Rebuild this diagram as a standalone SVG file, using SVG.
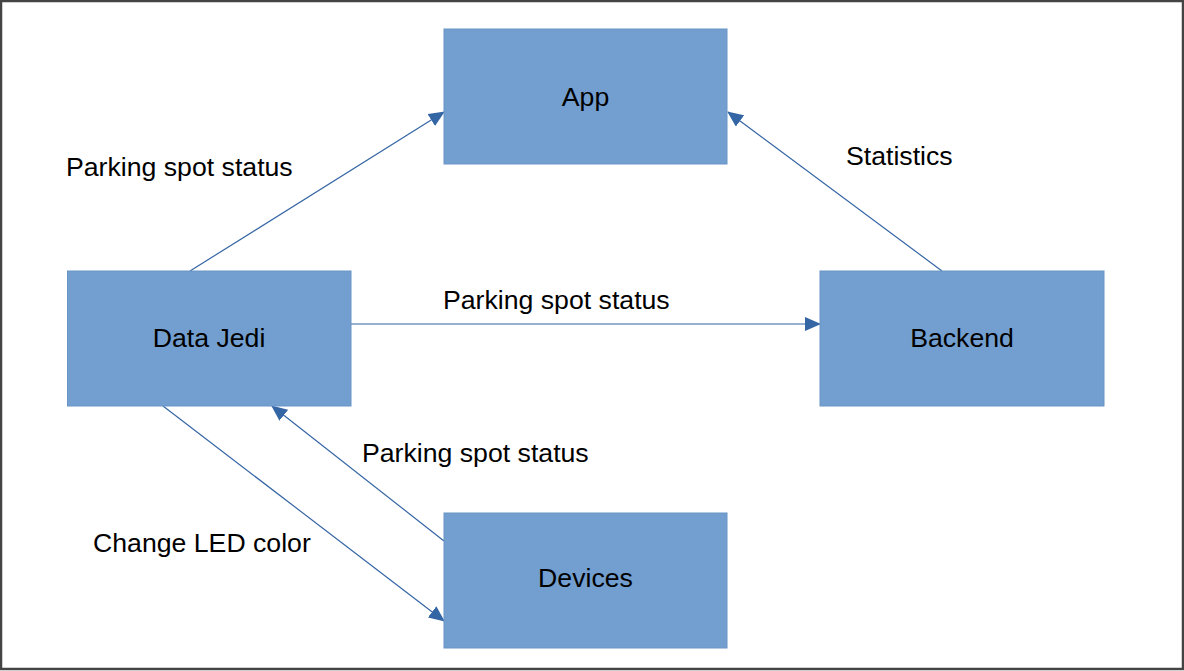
<svg xmlns="http://www.w3.org/2000/svg" width="1184" height="671" viewBox="0 0 1184 671">
<style>
.node rect{fill:#729fcf;stroke:#6a95c6;stroke-width:1}
.node text{font-family:"Liberation Sans",Arial,sans-serif;font-size:26.67px;fill:#000;text-anchor:middle}
.lbl{font-family:"Liberation Sans",Arial,sans-serif;font-size:26.67px;fill:#000}
.conn line{stroke:#3465a4;stroke-width:1.2;fill:none}
</style>
<defs>
<marker id="arr" markerUnits="userSpaceOnUse" markerWidth="16" markerHeight="14" viewBox="0 0 16 14" refX="15" refY="7" orient="auto">
<path d="M0,0 L16,7 L0,14 Z" fill="#3465a4"/>
</marker>
</defs>
<rect x="1" y="1" width="1182" height="668" fill="#fff" stroke="#444" stroke-width="2.5"/>
<g class="conn">
<line x1="190" y1="271" x2="444" y2="112" marker-end="url(#arr)"/>
<line x1="942" y1="271" x2="728" y2="112" marker-end="url(#arr)"/>
<line x1="351" y1="324" x2="820" y2="324" marker-end="url(#arr)"/>
<line x1="444" y1="541" x2="272" y2="406" marker-end="url(#arr)"/>
<line x1="163" y1="406" x2="444" y2="621" marker-end="url(#arr)"/>
</g>
<g id="app" class="node"><rect x="444" y="29" width="283" height="135"/><text x="585.5" y="106">App</text></g>
<g id="datajedi" class="node"><rect x="67.5" y="271" width="283.5" height="135"/><text x="209" y="347">Data Jedi</text></g>
<g id="backend" class="node"><rect x="820" y="271" width="284" height="135"/><text x="962" y="347">Backend</text></g>
<g id="devices" class="node"><rect x="444" y="513" width="283" height="135"/><text x="585.5" y="587">Devices</text></g>
<g id="labels">
<text class="lbl" x="66" y="176">Parking spot status</text>
<text class="lbl" x="846" y="165">Statistics</text>
<text class="lbl" x="443" y="309">Parking spot status</text>
<text class="lbl" x="362" y="462">Parking spot status</text>
<text class="lbl" x="93" y="552">Change LED color</text>
</g>
</svg>
